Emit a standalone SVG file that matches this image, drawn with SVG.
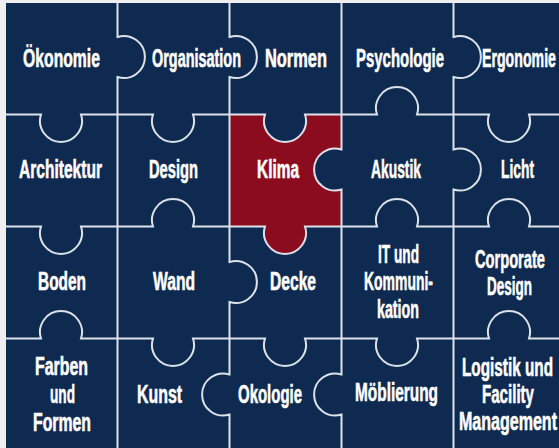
<svg xmlns="http://www.w3.org/2000/svg" width="559" height="448" viewBox="0 0 559 448">
<style>
.lbl{font-family:"Liberation Sans Narrow","Liberation Sans",Arial,sans-serif;font-weight:bold;font-size:26.5px;fill:#ffffff;stroke:#ffffff;stroke-width:0.6;text-anchor:middle}
.seam{fill:none;stroke:#dde2ea;stroke-width:2}
</style>
<rect x="0" y="0" width="559" height="448" fill="#efefef"/>
<rect id="board" x="6" y="3" width="553" height="445" fill="#0f2a50"/>
<path id="klima-piece" fill="#8c0c1f" d="M229.5,114.5 H265 A21,21 0 1 0 305,114.5 H341.5 V149.5 A21,21 0 1 0 341.5,189.5 V226.5 H305 A21,21 0 1 1 265,226.5 H229.5 Z"/>
<g id="seams">
<path class="seam" d="M117.5,3 V37 A21,21 0 1 1 117.5,77 V448"/>
<path class="seam" d="M229.5,3 V37 A21,21 0 1 1 229.5,77 V262 A21,21 0 1 1 229.5,302 V374.5 A21,21 0 1 0 229.5,414.5 V448"/>
<path class="seam" d="M341.5,3 V149.5 A21,21 0 1 0 341.5,189.5 V374.5 A21,21 0 1 0 341.5,414.5 V448"/>
<path class="seam" d="M453.5,3 V37 A21,21 0 1 1 453.5,77 V149.5 A21,21 0 1 1 453.5,189.5 V448"/>
<path class="seam" d="M6,114.5 H41 A21,21 0 1 0 81,114.5 H153 A21,21 0 1 0 193,114.5 H265 A21,21 0 1 0 305,114.5 H377 A21,21 0 1 1 417,114.5 H489 A21,21 0 1 0 529,114.5 H559"/>
<path class="seam" d="M6,226.5 H41 A21,21 0 1 0 81,226.5 H153 A21,21 0 1 1 193,226.5 H265 A21,21 0 1 0 305,226.5 H377 A21,21 0 1 1 417,226.5 H489 A21,21 0 1 1 529,226.5 H559"/>
<path class="seam" d="M6,338.5 H41 A21,21 0 1 1 81,338.5 H153 A21,21 0 1 0 193,338.5 H265 A21,21 0 1 0 305,338.5 H377 A21,21 0 1 0 417,338.5 H489 A21,21 0 1 1 529,338.5 H559"/>
</g>
<g id="oekonomie"><text class="lbl" x="61.5" y="67" textLength="77" lengthAdjust="spacingAndGlyphs">Ökonomie</text></g>
<g id="organisation"><text class="lbl" x="196.5" y="67" textLength="89" lengthAdjust="spacingAndGlyphs">Organisation</text></g>
<g id="normen"><text class="lbl" x="296" y="67" textLength="62" lengthAdjust="spacingAndGlyphs">Normen</text></g>
<g id="psychologie"><text class="lbl" x="400" y="67" textLength="88" lengthAdjust="spacingAndGlyphs">Psychologie</text></g>
<g id="ergonomie"><text class="lbl" x="519" y="67" textLength="74" lengthAdjust="spacingAndGlyphs">Ergonomie</text></g>
<g id="architektur"><text class="lbl" x="60.5" y="178" textLength="83" lengthAdjust="spacingAndGlyphs">Architektur</text></g>
<g id="design"><text class="lbl" x="173.5" y="178" textLength="49" lengthAdjust="spacingAndGlyphs">Design</text></g>
<g id="klima"><text class="lbl" x="278" y="178" textLength="42" lengthAdjust="spacingAndGlyphs">Klima</text></g>
<g id="akustik"><text class="lbl" x="396" y="178" textLength="50" lengthAdjust="spacingAndGlyphs">Akustik</text></g>
<g id="licht"><text class="lbl" x="517.5" y="178" textLength="33" lengthAdjust="spacingAndGlyphs">Licht</text></g>
<g id="boden"><text class="lbl" x="62" y="290" textLength="48" lengthAdjust="spacingAndGlyphs">Boden</text></g>
<g id="wand"><text class="lbl" x="174" y="290" textLength="42" lengthAdjust="spacingAndGlyphs">Wand</text></g>
<g id="decke"><text class="lbl" x="293" y="290" textLength="46" lengthAdjust="spacingAndGlyphs">Decke</text></g>
<g id="it-kommunikation">
<text class="lbl" x="398.5" y="263" textLength="41" lengthAdjust="spacingAndGlyphs">IT und</text>
<text class="lbl" x="398.5" y="290" textLength="69" lengthAdjust="spacingAndGlyphs">Kommuni-</text>
<text class="lbl" x="398" y="318" textLength="42" lengthAdjust="spacingAndGlyphs">kation</text>
</g>
<g id="corporate-design">
<text class="lbl" x="510" y="268" textLength="70" lengthAdjust="spacingAndGlyphs">Corporate</text>
<text class="lbl" x="509.5" y="295" textLength="45" lengthAdjust="spacingAndGlyphs">Design</text>
</g>
<g id="farben-formen">
<text class="lbl" x="61.5" y="375" textLength="53" lengthAdjust="spacingAndGlyphs">Farben</text>
<text class="lbl" x="62.5" y="403" textLength="25" lengthAdjust="spacingAndGlyphs">und</text>
<text class="lbl" x="62" y="431" textLength="58" lengthAdjust="spacingAndGlyphs">Formen</text>
</g>
<g id="kunst"><text class="lbl" x="159.5" y="403" textLength="45" lengthAdjust="spacingAndGlyphs">Kunst</text></g>
<g id="okologie"><text class="lbl" x="270" y="403" textLength="64" lengthAdjust="spacingAndGlyphs">Okologie</text></g>
<g id="moeblierung"><text class="lbl" x="396.5" y="401" textLength="83" lengthAdjust="spacingAndGlyphs">Möblierung</text></g>
<g id="logistik">
<text class="lbl" x="507.5" y="376" textLength="91" lengthAdjust="spacingAndGlyphs">Logistik und</text>
<text class="lbl" x="508" y="403" textLength="52" lengthAdjust="spacingAndGlyphs">Facility</text>
<text class="lbl" x="508" y="430" textLength="98" lengthAdjust="spacingAndGlyphs">Management</text>
</g>
</svg>
